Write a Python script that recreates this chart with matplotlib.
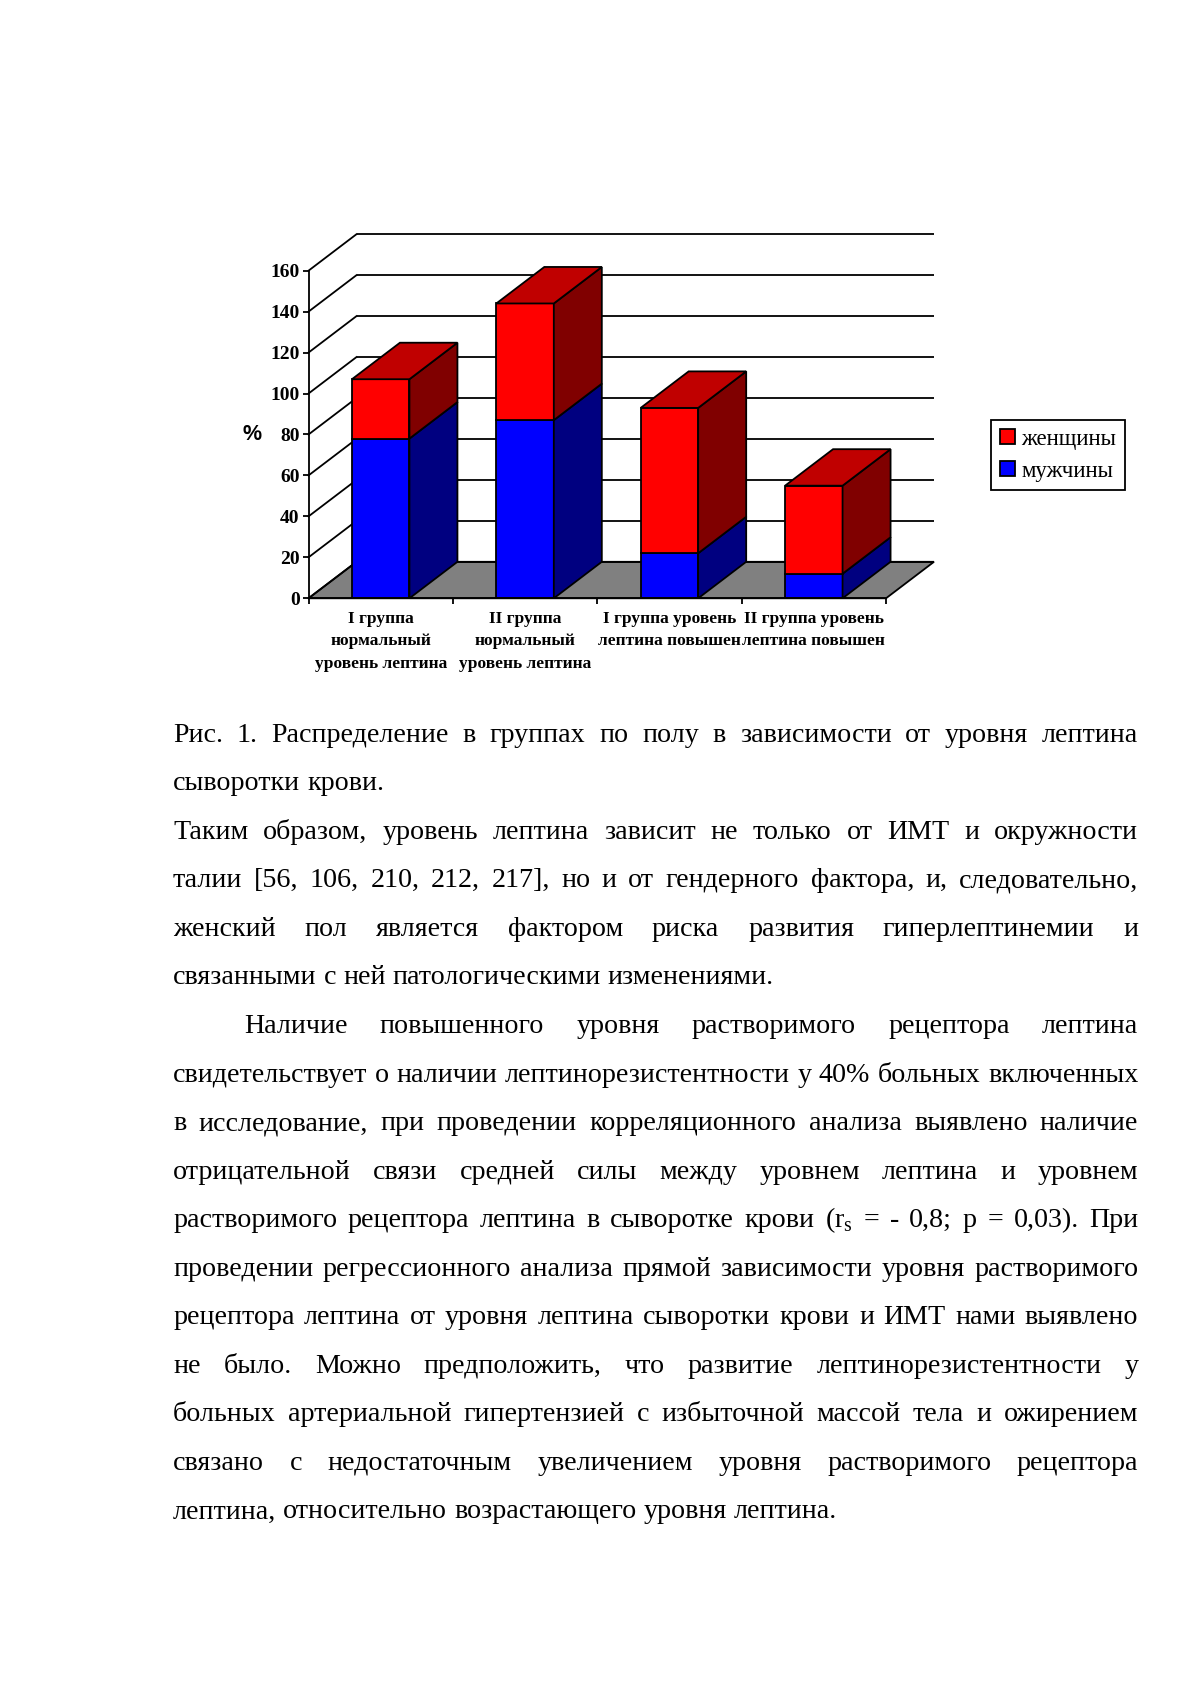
import matplotlib
matplotlib.use('Agg')
import matplotlib.pyplot as plt
from matplotlib.patches import Polygon, Patch

# ---------------- data ----------------
categories = ["I группа\nнормальный\nуровень лептина",
              "II группа\nнормальный\nуровень лептина",
              "I группа уровень\nлептина повышен",
              "II группа уровень\nлептина повышен"]
men = [78, 87, 22, 12]        # мужчины (blue, bottom)
women = [29, 57, 71, 43]      # женщины (red, top)
yticks = [0, 20, 40, 60, 80, 100, 120, 140, 160]
series_labels = ["женщины", "мужчины"]

caption_lines = [
    ("Рис. 1. Распределение в группах по полу в зависимости от уровня лептина", True, 0),
    ("сыворотки крови.", False, 0),
    ("Таким образом, уровень лептина зависит не только от ИМТ и окружности", True, 0),
    ("талии [56, 106, 210, 212, 217], но и от гендерного фактора, и, следовательно,", True, 0),
    ("женский пол является фактором риска развития гиперлептинемии и", True, 0),
    ("связанными с ней патологическими изменениями.", False, 0),
    ("Наличие повышенного уровня растворимого рецептора лептина", True, 71),
    ("свидетельствует о наличии лептинорезистентности у 40% больных включенных", True, 0),
    ("в исследование, при проведении корреляционного анализа выявлено наличие", True, 0),
    ("отрицательной связи средней силы между уровнем лептина и уровнем", True, 0),
    ("растворимого рецептора лептина в сыворотке крови (r$_\\mathregular{s}$ = - 0,8; p = 0,03). При", True, 0),
    ("проведении регрессионного анализа прямой зависимости уровня растворимого", True, 0),
    ("рецептора лептина от уровня лептина сыворотки крови и ИМТ нами выявлено", True, 0),
    ("не было. Можно предположить, что развитие лептинорезистентности у", True, 0),
    ("больных артериальной гипертензией с избыточной массой тела и ожирением", True, 0),
    ("связано с недостаточным увеличением уровня растворимого рецептора", True, 0),
    ("лептина, относительно возрастающего уровня лептина.", False, 0),
]

# ---------------- styles ----------------
RED, RED_TOP, RED_SIDE = '#FF0000', '#C00000', '#800000'
BLUE, BLUE_TOP, BLUE_SIDE = '#0000FF', '#0000C0', '#000080'
FLOOR = '#808080'
LW = 1.3

W, H = 1197, 1693
fig = plt.figure(figsize=(W / 100, H / 100), dpi=100)
fig.patch.set_facecolor('white')


def fx(px):
    return px / W


def fy(py):
    return 1 - py / H


# axes = front plane of the 3D chart
ax = fig.add_axes([fx(308.5), fy(598.3), (886 - 308.5) / W, (598.3 - 270.7) / H])
ax.set_xlim(0, len(categories))
ax.set_ylim(yticks[0], yticks[-1])
ax.patch.set_visible(False)

px_per_cat = (886 - 308.5) / len(categories)
px_per_val = (598.3 - 270.7) / (yticks[-1] - yticks[0])
DX = 48.0 / px_per_cat      # depth offset (category units)
DY = 36.5 / px_per_val      # depth offset (value units)
BW = 57.5 / px_per_cat      # bar width
n = len(categories)

# floor
ax.add_patch(Polygon([(0, 0), (DX, DY), (n + DX, DY), (n, 0)], closed=True,
                     fc=FLOOR, ec='black', lw=LW, clip_on=False, zorder=1))
# back wall gridlines and side wall lines
for v in yticks:
    ax.plot([DX, n + DX], [v + DY, v + DY], color='black', lw=LW,
            clip_on=False, zorder=1.5, solid_capstyle='butt')
    ax.plot([0, DX], [v, v + DY], color='black', lw=LW,
            clip_on=False, zorder=1.5)


def box(x0, x1, b, t, front, side, top, draw_top):
    ax.add_patch(Polygon([(x0, b), (x1, b), (x1, t), (x0, t)], closed=True,
                         fc=front, ec='black', lw=LW, clip_on=False, zorder=3,
                         joinstyle='miter'))
    ax.add_patch(Polygon([(x1, b), (x1 + DX, b + DY), (x1 + DX, t + DY), (x1, t)],
                         closed=True, fc=side, ec='black', lw=LW, clip_on=False,
                         zorder=3, joinstyle='miter'))
    if draw_top:
        ax.add_patch(Polygon([(x0, t), (x1, t), (x1 + DX, t + DY), (x0 + DX, t + DY)],
                             closed=True, fc=top, ec='black', lw=LW, clip_on=False,
                             zorder=3, joinstyle='miter'))


for i in range(n):
    xc = i + 0.5
    x0, x1 = xc - BW / 2, xc + BW / 2
    box(x0, x1, 0, men[i], BLUE, BLUE_SIDE, BLUE_TOP, False)
    box(x0, x1, men[i], men[i] + women[i], RED, RED_SIDE, RED_TOP, True)

# spines & ticks
for s in ['top', 'right']:
    ax.spines[s].set_visible(False)
for s in ['left', 'bottom']:
    ax.spines[s].set_linewidth(LW)
    ax.spines[s].set_color('black')
    ax.spines[s].set_zorder(5)

ax.set_yticks(yticks)
ax.set_yticklabels([str(v) for v in yticks], fontsize=14, fontweight='bold',
                   family='Liberation Serif')
ax.tick_params(axis='y', direction='out', length=4.3, width=LW, pad=2)

ax.set_xticks(range(n + 1))
ax.set_xticklabels([])
ax.tick_params(axis='x', which='major', direction='out', length=4.0, width=LW)
ax.set_xticks([i + 0.5 for i in range(n)], minor=True)
ax.set_xticklabels(categories, minor=True, fontsize=12.5, fontweight='bold',
                   family='Liberation Serif', linespacing=1.55)
ax.tick_params(axis='x', which='minor', length=0, pad=9)

fig.text(fx(252), fy(435), '%', ha='center', va='center',
         family='Liberation Sans', fontweight='bold', fontsize=15.5)

handles = [Patch(fc=RED, ec='black', lw=LW), Patch(fc=BLUE, ec='black', lw=LW)]
leg = fig.legend(handles, series_labels, loc='upper left',
                 bbox_to_anchor=(fx(991), fy(420)), borderaxespad=0,
                 frameon=True, fancybox=False, edgecolor='black',
                 prop={'family': 'Liberation Serif', 'size': 16.5},
                 handlelength=0.65, handleheight=0.65, handletextpad=0.3,
                 borderpad=0.38, labelspacing=0.48, framealpha=1)
leg.get_frame().set_linewidth(LW)

# ---------------- body text (justified) ----------------
FS = 20.2
FAM = 'Liberation Serif'
renderer = fig.canvas.get_renderer()


def width_of(s):
    t = fig.text(0, 0, s, fontsize=FS, family=FAM)
    w = t.get_window_extent(renderer).width
    t.remove()
    return w


space_w = width_of('a a') - width_of('aa')
L, R = 173.0, 1138.3
base0, step = 741.7, 48.55
for k, (line, justify, indent) in enumerate(caption_lines):
    words = line.split(' ')
    ws = [width_of(w) for w in words]
    x = L + indent
    if justify and len(words) > 1:
        gap = (R - x - sum(ws)) / (len(words) - 1)
    else:
        gap = space_w
    y = base0 + k * step
    for w, wd in zip(words, ws):
        fig.text(fx(x), fy(y), w, fontsize=FS, family=FAM, ha='left', va='baseline')
        x += wd + gap

fig.savefig('out.png', dpi=100, facecolor='white')
